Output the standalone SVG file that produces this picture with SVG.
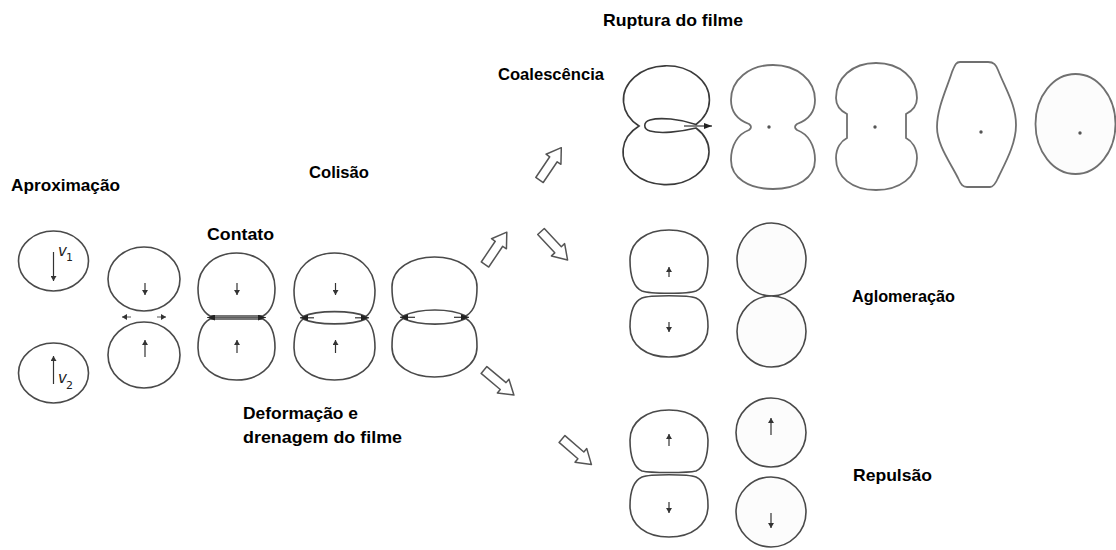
<svg xmlns="http://www.w3.org/2000/svg" width="1116" height="550" viewBox="0 0 1116 550">
<style>
.lbl{font-family:"Liberation Sans",Arial,sans-serif;font-weight:bold;font-size:17px;fill:#000}
.v{font-family:"DejaVu Sans","Liberation Sans",sans-serif;font-style:italic;font-size:15px;fill:#222}
.sub{font-family:"DejaVu Sans","Liberation Sans",sans-serif;font-size:11px;fill:#222}
.d{fill:#fff;stroke:#4a4a4a;stroke-width:1.6}
.g{fill:#fff;stroke:#707070;stroke-width:1.8}
.ar{fill:none;stroke:#333;stroke-width:1.2;marker-end:url(#ah)}
.fa{fill:none;stroke:#333;stroke-width:1.2;marker-end:url(#ah2)}
.blk{fill:#fff;stroke:#555;stroke-width:1.5;stroke-linejoin:round}
.dot{fill:#555}
</style>
<defs>
<marker id="ah" markerUnits="userSpaceOnUse" markerWidth="5" markerHeight="6" refX="5" refY="3" orient="auto">
<path d="M0,0 L5,3 L0,6 Z" fill="#333"/>
</marker>
<marker id="ah2" markerUnits="userSpaceOnUse" markerWidth="8" markerHeight="6" refX="8" refY="3" orient="auto">
<path d="M0,0 L8,3 L0,6 Z" fill="#222"/>
</marker>
<path id="block" d="M0,-4.5 L25,-4.5 L25,-9 L39,0 L25,9 L25,4.5 L0,4.5 Z"/>
</defs>

<rect width="1116" height="550" fill="#fff"/>

<g id="labels">
<text class="lbl" x="603" y="26" textLength="140" lengthAdjust="spacingAndGlyphs">Ruptura do filme</text>
<text class="lbl" x="498" y="80" textLength="106" lengthAdjust="spacingAndGlyphs">Coalescência</text>
<text class="lbl" x="11" y="191" textLength="109" lengthAdjust="spacingAndGlyphs">Aproximação</text>
<text class="lbl" x="309" y="178" textLength="60" lengthAdjust="spacingAndGlyphs">Colisão</text>
<text class="lbl" x="207" y="240" textLength="67" lengthAdjust="spacingAndGlyphs">Contato</text>
<text class="lbl" x="243" y="419" textLength="115" lengthAdjust="spacingAndGlyphs">Deformação e</text>
<text class="lbl" x="243" y="443" textLength="159" lengthAdjust="spacingAndGlyphs">drenagem do filme</text>
<text class="lbl" x="852" y="302" textLength="103" lengthAdjust="spacingAndGlyphs">Aglomeração</text>
<text class="lbl" x="853" y="481" textLength="79" lengthAdjust="spacingAndGlyphs">Repulsão</text>
</g>

<g id="approach">
<ellipse class="d" cx="53.5" cy="261" rx="35" ry="30"/>
<ellipse class="d" cx="53.5" cy="373" rx="35" ry="30"/>
<line class="ar" x1="53.5" y1="252" x2="53.5" y2="281"/>
<line class="ar" x1="53.5" y1="384" x2="53.5" y2="356"/>
<text class="v" x="58" y="256">v</text><text class="sub" x="66" y="261">1</text>
<text class="v" x="58" y="383">v</text><text class="sub" x="66" y="389">2</text>
</g>

<g id="approach-close">
<ellipse class="d" cx="144" cy="279" rx="36" ry="32"/>
<ellipse class="d" cx="144" cy="355" rx="36" ry="33"/>
<line class="ar" x1="145" y1="283" x2="145" y2="295"/>
<line class="ar" x1="145" y1="357" x2="145" y2="340"/>
<line class="ar" x1="131" y1="317" x2="122" y2="317" style="stroke:#555;stroke-width:1"/>
<line class="ar" x1="157" y1="317" x2="166" y2="317" style="stroke:#555;stroke-width:1"/>
</g>

<g id="contact">
<path class="d" d="M210,316 C201,311 198,302 198,288 C198,267 215,253 236.5,253 C258,253 275,267 275,288 C275,302 272,311 263,316 Z"/>
<path class="d" d="M210,319 L263,319 C272,324 275,334 275,348 C275,367 258,380 236.5,380 C215,380 198,367 198,348 C198,334 201,324 210,319 Z"/>
<line class="fa" x1="236" y1="317.5" x2="207" y2="317.5" style="stroke-width:0.8"/>
<line class="fa" x1="236" y1="317.5" x2="266" y2="317.5" style="stroke-width:0.8"/>
<line class="ar" x1="237" y1="283" x2="237" y2="295"/>
<line class="ar" x1="237" y1="353" x2="237" y2="340"/>
</g>

<g id="collision-1">
<path class="d" d="M303,316.5 C296,311 294,302 294,290 C294,268 312,253 334.5,253 C357,253 375,268 375,290 C375,302 373,311 366,316.5 C352,310 317,310 303,316.5 Z"/>
<path class="d" d="M303,319 C317,325.5 352,325.5 366,319 C373,325 375,335 375,348 C375,367 357,380 334.5,380 C312,380 294,367 294,348 C294,335 296,325 303,319 Z"/>
<line class="fa" x1="314" y1="317.8" x2="300" y2="317.8"/>
<line class="fa" x1="355" y1="317.8" x2="369" y2="317.8"/>
<line class="ar" x1="335.5" y1="283" x2="335.5" y2="295"/>
<line class="ar" x1="335.5" y1="353" x2="335.5" y2="340"/>
</g>

<g id="collision-2">
<path class="d" d="M403,316 C393,310 392,298 392,287 C392,268 412,257 434.5,257 C457,257 477,268 477,287 C477,298 476,310 466,316 C450,308 420,308 403,316 Z"/>
<path class="d" d="M403,318.5 C420,326 450,326 466,318.5 C476,325 477,335 477,347 C477,366 457,377 434.5,377 C412,377 392,366 392,347 C392,335 393,325 403,318.5 Z"/>
<line class="fa" x1="415" y1="317.3" x2="400" y2="317.3"/>
<line class="fa" x1="454" y1="317.3" x2="469" y2="317.3"/>
</g>

<g id="coalescence-1">
<path class="d" style="stroke:#3a3a3a" d="M639,126 A43 34 0 1 1 696,124.5 C680,119 660,117 650,120 C643,122 643,129 650,131 C660,134 680,132 696,128 A43 33 0 1 1 639,126 Z"/>
<line class="fa" x1="684" y1="126" x2="712" y2="126"/>
</g>

<g id="coalescence-2">
<path class="g" d="M773,65 C797,65 815,80 815,100 C815,112 808,120 797,124 Q793,127 797,130 C808,134 815,145 815,160 C815,178 797,189 773,189 C749,189 731,178 731,160 C731,145 738,134 749,130 Q753,127 749,124 C738,120 731,112 731,100 C731,80 749,65 773,65 Z"/>
<circle class="dot" cx="769" cy="127" r="1.7"/>
</g>

<g id="coalescence-3">
<path class="g" d="M876,63 C900,63 917,78 917,98 C917,106 912,111 906,114 L906,138 C912,141 917,148 917,158 C917,177 900,190 876,190 C852,190 836,177 836,158 C836,148 841,141 847,138 L847,114 C841,111 836,106 836,98 C836,78 852,63 876,63 Z"/>
<circle class="dot" cx="875" cy="127" r="1.7"/>
</g>

<g id="coalescence-4">
<path class="g" d="M960,62 L988,62 C994,62 996,65 998,70 C1006,90 1016,105 1016,125 C1016,145 1004,165 998,178 C995,185 993,187 990,187 L967,187 C963,187 961,185 958,178 C950,162 937,145 937,127 C937,108 947,88 952,72 C955,65 956,62 960,62 Z"/>
<circle class="dot" cx="981" cy="132" r="1.7"/>
</g>

<g id="coalescence-5">
<ellipse class="g" cx="1075.5" cy="124" rx="40" ry="50" style="fill:#fcfcfc"/>
<circle class="dot" cx="1080" cy="133" r="1.7"/>
</g>

<g id="aglomeracao">
<path class="d" d="M669,230 C692,230 708,242 708,260 C708,276 705,287 696,291 C688,294 650,294 642,291 C633,287 630,276 630,260 C630,242 646,230 669,230 Z"/>
<path class="d" d="M642,298 C650,295 688,295 696,298 C705,302 708,312 708,327 C708,345 692,357 669,357 C646,357 630,345 630,327 C630,312 633,302 642,298 Z"/>
<line class="ar" x1="669" y1="277" x2="669" y2="267"/>
<line class="ar" x1="669" y1="322" x2="669" y2="332"/>
<ellipse class="d" cx="771.5" cy="259.5" rx="34.5" ry="36.5" style="fill:#fcfcfc"/>
<ellipse class="d" cx="771.5" cy="331.5" rx="34.5" ry="35.5" style="fill:#fcfcfc"/>
</g>

<g id="repulsao">
<path class="d" d="M669,410 C692,410 708,422 708,440 C708,456 705,467 696,471 C688,473 650,473 642,471 C633,467 630,456 630,440 C630,422 646,410 669,410 Z"/>
<path class="d" d="M642,477 C650,474 688,474 696,477 C705,481 708,491 708,506 C708,525 692,537 669,537 C646,537 630,525 630,506 C630,491 633,481 642,477 Z"/>
<line class="ar" x1="669" y1="446" x2="669" y2="434"/>
<line class="ar" x1="669" y1="502" x2="669" y2="513"/>
<ellipse class="d" cx="771" cy="432.5" rx="35" ry="34.5" style="fill:#fcfcfc"/>
<ellipse class="d" cx="771" cy="512" rx="35" ry="35" style="fill:#fcfcfc"/>
<line class="ar" x1="771" y1="435" x2="771" y2="418"/>
<line class="ar" x1="771" y1="513" x2="771" y2="528"/>
</g>

<g id="connectors">
<use href="#block" class="blk" transform="translate(539.5,180) rotate(-56)"/>
<use href="#block" class="blk" transform="translate(485,264.5) rotate(-56)"/>
<use href="#block" class="blk" transform="translate(541,231.5) rotate(47)"/>
<use href="#block" class="blk" transform="translate(484,370) rotate(40)"/>
<use href="#block" class="blk" transform="translate(562,439) rotate(41)"/>
</g>
</svg>
